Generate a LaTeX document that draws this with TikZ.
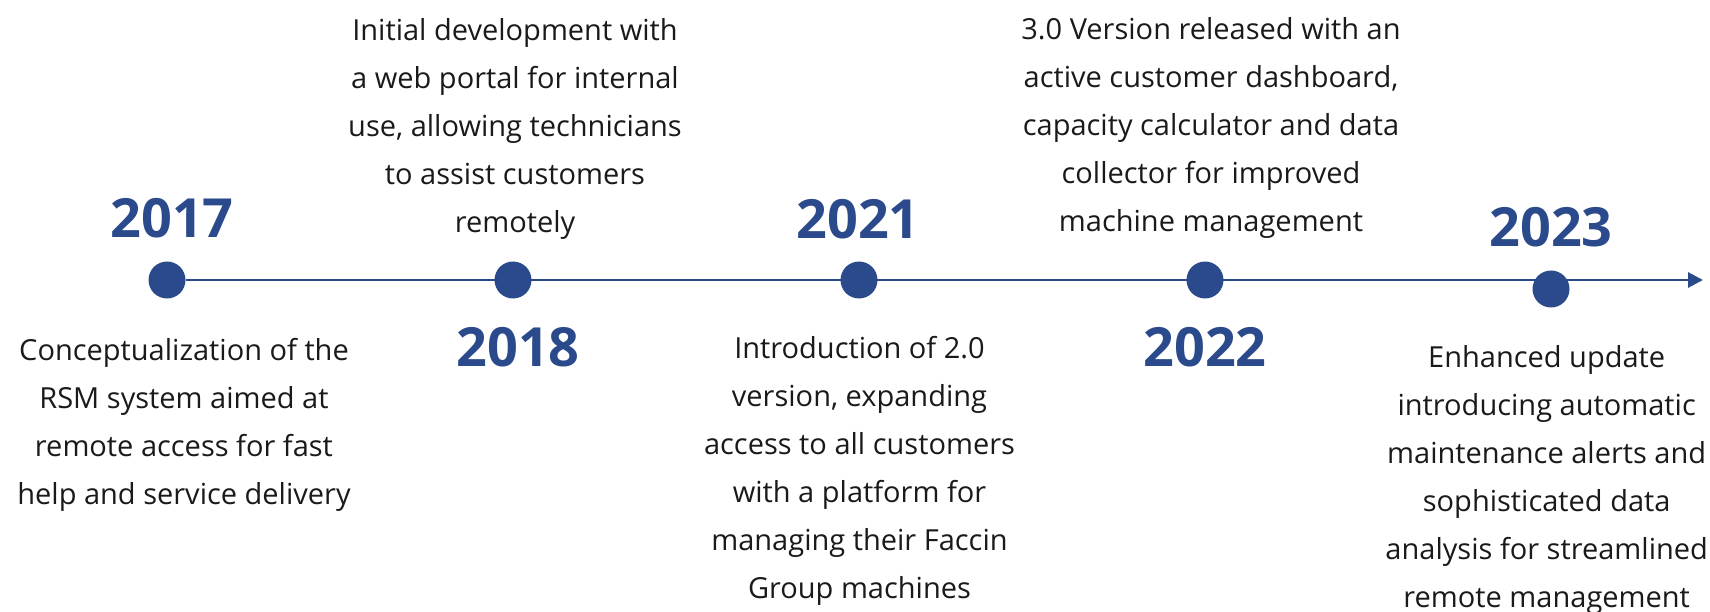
\documentclass[tikz,border=0pt]{standalone}
\usepackage{fontspec}
\setmainfont{Open Sans}
\usetikzlibrary{arrows.meta, positioning}
\definecolor{rsmblue}{HTML}{2A4A8C}
\definecolor{ink}{HTML}{1A1A1A}
\tikzstyle{milestone} = [circle, fill=rsmblue, minimum size=37pt, inner sep=0pt]
\tikzstyle{year} = [text=rsmblue, font=\fontsize{54}{60}\selectfont\bfseries, inner sep=0pt]
% base of a multi-line node sits on its last line
\tikzstyle{note} = [align=center, text=ink, font=\fontsize{29}{48}\selectfont, inner sep=0pt, anchor=base]

\begin{document}
\begin{tikzpicture}[x=1pt,y=-1pt,node distance=346pt,>={Triangle[length=15pt,width=15pt]}]
  \useasboundingbox (0,0) rectangle (1710,612);
  % milestones on the line
  \node [milestone] (d2017) at (167,280) {};
  \node [milestone, right of=d2017] (d2018) {};
  \node [milestone, right of=d2018] (d2021) {};
  \node [milestone, right of=d2021] (d2022) {};
  \node [milestone, right of=d2022, yshift=-9pt] (d2023) {};
  \coordinate (tip) at (1703,280);
  \draw [->, rsmblue, line width=2.8pt] (d2017) -- (tip);

  % years
  \node [year, above of=d2017, node distance=62pt, xshift=5pt] (y2017) {2017};
  \node [year, below of=d2018, node distance=67pt, xshift=5pt] (y2018) {2018};
  \node [year, above of=d2021, node distance=61pt, xshift=-1pt] (y2021) {2021};
  \node [year, below of=d2022, node distance=67pt] (y2022) {2022};
  \node [year, above of=d2023, node distance=62pt] (y2023) {2023};

  % descriptions
  \node [note] (n2017) at (184,504.7) {Conceptualization of the\\RSM system aimed at\\remote access for fast\\help and service delivery};
  \node [note] (n2018) at (515,232.7) {Initial development with\\a web portal for internal\\use, allowing technicians\\to assist customers\\remotely};
  \node [note] (n2021) at (859.5,598.3) {Introduction of 2.0\\version, expanding\\access to all customers\\with a platform for\\managing their Faccin\\Group machines};
  \node [note] (n2022) at (1211,231.3) {3.0 Version released with an\\active customer dashboard,\\capacity calculator and data\\collector for improved\\machine management};
  \node [note] (n2023) at (1546.7,607.5) {Enhanced update\\introducing automatic\\maintenance alerts and\\sophisticated data\\analysis for streamlined\\remote management};
\end{tikzpicture}
\end{document}
